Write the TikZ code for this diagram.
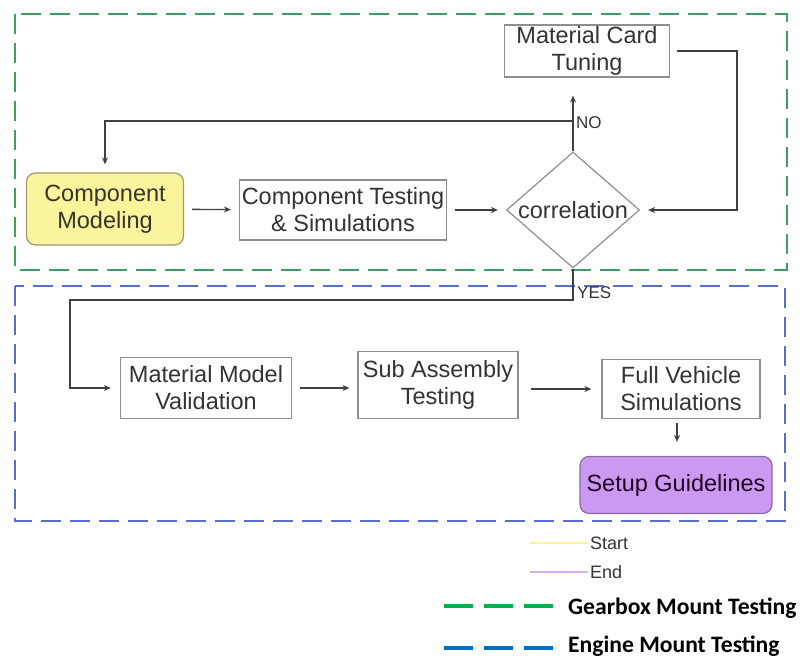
\documentclass[tikz,border=0pt]{standalone}
\usepackage{fontspec}
\setmainfont{Liberation Sans}
\newfontfamily\legendfont{Carlito}
\usetikzlibrary{shapes.geometric,arrows.meta}
\definecolor{boxgray}{HTML}{8E8E8E}
\definecolor{textgray}{HTML}{333333}
\definecolor{linegray}{HTML}{404040}
\definecolor{startfill}{HTML}{FAF59C}
\definecolor{startdraw}{HTML}{9A9A70}
\definecolor{endfill}{HTML}{CC99F2}
\definecolor{enddraw}{HTML}{8A6AA6}
\definecolor{gearboxgreen}{HTML}{3E9E66}
\definecolor{engineblue}{HTML}{5570D2}
\definecolor{legendgreen}{HTML}{00B050}
\definecolor{legendblue}{HTML}{0070C0}
\begin{document}
\begin{tikzpicture}[x=1pt,y=-1pt,
    box/.style={draw=boxgray, line width=1.2pt, align=center, inner sep=0pt,
        text=textgray, font=\fontsize{23.5}{27}\selectfont},
    startbox/.style={box, rounded corners=9pt, fill=startfill, draw=startdraw, text=black!80!olive},
    endbox/.style={box, rounded corners=9pt, fill=endfill, draw=enddraw, text=black!75!violet},
    decision/.style={box, diamond, shape aspect=1.15, minimum width=133pt, minimum height=116pt},
    flow/.style={draw=linegray, line width=1.3pt, -{Stealth[length=7pt,width=6pt]},
        shorten <=8pt, shorten >=8pt},
    lbl/.style={text=textgray, inner sep=0pt, font=\fontsize{17}{19}\selectfont},
    gearbox/.style={draw=gearboxgreen, line width=2pt, dash pattern=on 20pt off 9pt},
    engine/.style={draw=engineblue, line width=2pt, dash pattern=on 20pt off 9pt},
    legendline/.style={line width=3.5pt, dash pattern=on 29pt off 11pt},
    legendtext/.style={anchor=west, inner sep=0pt, font=\legendfont\bfseries\fontsize{23.6}{26}\selectfont}
]
    \useasboundingbox (0,0) rectangle (805,660);

    % group frames
    \draw[gearbox] (15,14) rectangle (787,270);
    \draw[engine] (15,286) rectangle (785,521);

    % gearbox mount testing
    \node[startbox, minimum width=157pt, minimum height=72pt] (model) at (105,209) {Component\\Modeling};
    \node[box, minimum width=207pt, minimum height=60pt] (test) at (343,210) {Component Testing\\\& Simulations};
    \node[decision] (corr) at (573,210) {correlation};
    \node[box, minimum width=165pt, minimum height=52pt] (tune) at (587,51) {Material Card\\Tuning};

    % engine mount testing
    \node[box, minimum width=171pt, minimum height=61pt] (mmv) at (206,388) {Material Model\\Validation};
    \node[box, minimum width=160pt, minimum height=67pt] (sat) at (438,385) {Sub Assembly\\Testing};
    \node[box, minimum width=158pt, minimum height=59pt] (fvs) at (681,389) {Full Vehicle\\Simulations};
    \node[endbox, minimum width=192pt, minimum height=57pt] (setup) at (676,485) {Setup Guidelines};

    \coordinate (nojoin) at (573,121);
    \coordinate (tuneright) at (737,51);
    \coordinate (yesjoin) at (573,300);
    \coordinate (yesleft) at (70,300);

    \draw[flow] (model) -- (test);
    \draw[flow] (test) -- (corr);
    \draw[flow, shorten <=0pt, shorten >=18pt] (corr.north) -- (corr.north |- tune.south);
    \draw[flow, shorten <=0pt] (nojoin) -| (model.north);
    \draw[flow, shorten <=7pt] (tune.east) -- (tuneright) |- (corr.east);
    \draw[flow, shorten <=0pt, shorten >=9pt] (corr.south) -- (yesjoin) -- (yesleft) |- (mmv.west);
    \draw[flow] (mmv) -- (sat.west |- mmv);
    \draw[flow, shorten <=12pt, shorten >=10pt] (sat.east |- fvs) -- (fvs);
    \draw[flow, shorten <=4pt, shorten >=14pt] (fvs.south -| 677,0) -- (setup.north -| 677,0);

    \node[lbl, anchor=west] (no) at (576,123) {NO};
    \node[lbl, anchor=west] (yes) at (577,293) {YES};

    % legend
    \coordinate (startA) at (530,543);
    \coordinate (startB) at (588,543);
    \coordinate (endA) at (530,572);
    \coordinate (endB) at (588,572);
    \draw[startfill!90!yellow, line width=2pt] (startA) -- (startB);
    \draw[endfill!80!white, line width=2pt] (endA) -- (endB);
    \node[lbl, anchor=west, font=\fontsize{18}{20}\selectfont] (start) at (590,543) {Start};
    \node[lbl, anchor=west, font=\fontsize{18}{20}\selectfont] (end) at (590,572) {End};

    \coordinate (greenA) at (444,606);
    \coordinate (greenB) at (553,606);
    \coordinate (blueA) at (444,648);
    \coordinate (blueB) at (553,648);
    \draw[legendline, legendgreen] (greenA) -- (greenB);
    \draw[legendline, legendblue] (blueA) -- (blueB);
    \node[legendtext] (gearboxlbl) at (568,608) {Gearbox Mount Testing};
    \node[legendtext] (enginelbl) at (568,646) {Engine Mount Testing};
\end{tikzpicture}
\end{document}
